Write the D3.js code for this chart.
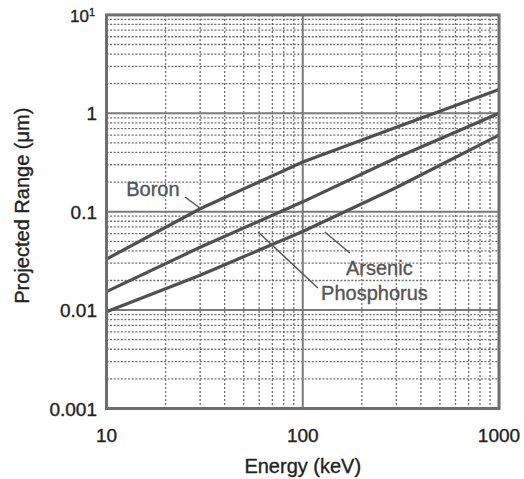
<!DOCTYPE html>
<html><head><meta charset="utf-8">
<script src="https://cdn.jsdelivr.net/npm/d3@7"></script>
<style>body{margin:0;background:#fff}svg{display:block}text{font-family:"Liberation Sans",Arial,sans-serif}</style>
</head><body>
<svg id="c" width="524" height="479"></svg>
<script>
const energies = [10, 30, 100, 300, 1000];
const boron = [0.033, 0.107, 0.32, 0.72, 1.75];
const phosphorus = [0.0154, 0.0435, 0.126, 0.354, 1.0];
const arsenic = [0.0096, 0.0226, 0.063, 0.176, 0.60];
const seriesNames = ["Boron", "Phosphorus", "Arsenic"];
const xTickLabels = ["10", "100", "1000"];
const yTickValues = [0.001, 0.01, 0.1, 1, 10];
const yTickLabels = ["0.001", "0.01", "0.1", "1", "10"];
// annotation anchors in data units: [text, textX, textY, leaderX1, leaderY1, leaderX2, leaderY2]
const annotations = [
  ["Boron", 12.6, 0.144, 25.1, 0.141, 29.9, 0.109],
  ["Arsenic", 166, 0.0227, 129.6, 0.0622, 173.8, 0.038],
  ["Phosphorus", 124, 0.0126, 59.2, 0.0622, 119.4, 0.0168]
];

const svg = d3.select("#c");
const L = 106.5, R = 499, T = 14.9, B = 408.5;
const x = d3.scaleLog().domain([10, 1000]).range([L, R]);
const y = d3.scaleLog().domain([0.001, 10]).range([B, T]);
const gridCol = "#7a7a7a";

// minor grid
const minorX = [], minorY = [];
[10, 100].forEach(d => { for (let k = 2; k <= 9; k++) minorX.push(d * k); });
[0.001, 0.01, 0.1, 1].forEach(d => { for (let k = 2; k <= 9; k++) minorY.push(d * k); });
svg.append("g").selectAll("line").data(minorX).join("line")
  .attr("x1", d => x(d)).attr("x2", d => x(d)).attr("y1", T).attr("y2", B)
  .attr("stroke", "#6f6f6f").attr("stroke-width", 1.3).attr("stroke-dasharray", "2,2");
svg.append("g").selectAll("line").data(minorY).join("line")
  .attr("y1", d => y(d)).attr("y2", d => y(d)).attr("x1", L).attr("x2", R)
  .attr("stroke", "#6f6f6f").attr("stroke-width", 1.3).attr("stroke-dasharray", "2,1.6");
// major grid
svg.append("g").selectAll("line").data([100]).join("line")
  .attr("x1", d => x(d)).attr("x2", d => x(d)).attr("y1", T).attr("y2", B)
  .attr("stroke", gridCol).attr("stroke-width", 2);
svg.append("g").selectAll("line").data([0.01, 0.1, 1]).join("line")
  .attr("y1", d => y(d)).attr("y2", d => y(d)).attr("x1", L).attr("x2", R)
  .attr("stroke", gridCol).attr("stroke-width", 2);

// data lines
const line = d3.line().x(d => x(d[0])).y(d => y(d[1]));
[boron, phosphorus, arsenic].forEach(s => {
  svg.append("path").datum(energies.map((e, i) => [e, s[i]]))
    .attr("d", line).attr("fill", "none").attr("stroke", "#505050").attr("stroke-width", 3.2);
});

// frame
svg.append("rect").attr("x", L).attr("y", T).attr("width", R - L).attr("height", B - T)
  .attr("fill", "none").attr("stroke", "#6e6e6e").attr("stroke-width", 3);

// axes text
const thick = sel => sel.attr("stroke", "currentColor").attr("stroke-width", 0.35);
[10, 100, 1000].forEach((v, i) => {
  svg.append("text").attr("x", x(v)).attr("y", 442).attr("text-anchor", "middle")
    .attr("font-size", 19).attr("fill", "#222").style("color", "#222").call(thick).text(xTickLabels[i]);
});
yTickValues.forEach((v, i) => {
  if (v === 10) {
    const t = svg.append("text").attr("x", 95).attr("y", y(v) + 7).attr("text-anchor", "end")
      .attr("font-size", 17).attr("fill", "#222").style("color", "#222").call(thick);
    t.append("tspan").text(yTickLabels[i]);
    t.append("tspan").attr("font-size", 11).attr("dy", -6).text("1");
  } else {
    svg.append("text").attr("x", 97).attr("y", y(v) + 7).attr("text-anchor", "end")
      .attr("font-size", 19).attr("fill", "#222").style("color", "#222").call(thick).text(yTickLabels[i]);
  }
});
svg.append("text").attr("x", (L + R) / 2).attr("y", 473).attr("text-anchor", "middle")
  .attr("font-size", 20).attr("fill", "#222").style("color", "#222").call(thick).text("Energy (keV)");
svg.append("text").attr("transform", "translate(29," + ((T + B) / 2 - 6) + ") rotate(-90)")
  .attr("text-anchor", "middle").attr("font-size", 20).attr("fill", "#222").style("color", "#222")
  .call(thick).text("Projected Range (μm)");

// annotations
annotations.forEach(a => {
  svg.append("line").attr("x1", x(a[3])).attr("y1", y(a[4])).attr("x2", x(a[5])).attr("y2", y(a[6]))
    .attr("stroke", "#555").attr("stroke-width", 1.5);
  svg.append("text").attr("x", x(a[1])).attr("y", y(a[2])).attr("font-size", 20)
    .attr("fill", "#555").style("color", "#555").call(thick).text(a[0]);
});
</script>
</body></html>
